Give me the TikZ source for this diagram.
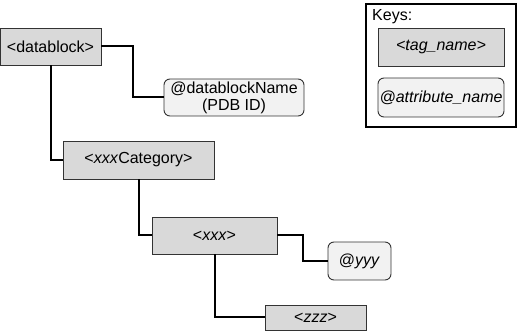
\documentclass[tikz,border=0pt]{standalone}
\usepackage{fontspec}
\setmainfont{Liberation Sans}
\begin{document}
\begin{tikzpicture}[x=1pt,y=-1pt,
  every node/.style={font=\fontsize{16}{17}\selectfont, inner sep=0pt},
  tagbox/.style={draw=black!80, line width=0.9pt, fill=black!15},
  attrbox/.style={draw=black!80, line width=0.9pt, fill=black!5, rounded corners=6pt},
  conn/.style={line width=2pt, black}]
\useasboundingbox (0,0) rectangle (520,331);
% nodes
\node[tagbox, minimum width=101pt, minimum height=37pt] (db) at (50.5,46.5) {<datablock>};
\node[attrbox, minimum width=140pt, minimum height=37pt, align=center] (dbname) at (234,97.5) {@datablockName\\(PDB ID)};
\node[tagbox, minimum width=151pt, minimum height=38pt] (cat) at (138.5,160) {<\textit{xxx}Category>};
\node[tagbox, minimum width=125pt, minimum height=37pt] (xxx) at (214.5,235.5) {<\textit{xxx}>};
\node[attrbox, minimum width=63pt, minimum height=38pt] (yyy) at (359.5,261) {@\textit{yyy}};
\node[tagbox, minimum width=101pt, minimum height=25pt] (zzz) at (315.5,317.5) {<\textit{zzz}>};
% keys
\node[draw=black, line width=2.8pt, minimum width=150pt, minimum height=123pt] (keys) at (441,65.5) {};
\node[anchor=north west] (keyslabel) at (372,9.5) {Keys:};
\node[tagbox, minimum width=126pt, minimum height=38pt] (tag) at (441,47) {\textit{<tag\_name>}};
\node[attrbox, minimum width=126pt, minimum height=39pt] (attr) at (441,97.5) {\textit{@attribute\_name}};
% connectors
\draw[conn] (db.east) -- ++(32,0) |- (dbname.west);
\draw[conn] (db.south) |- (cat.west);
\draw[conn] (cat.south) |- (xxx.west);
\draw[conn] (xxx.east) -- ++(26,0) |- (yyy.west);
\draw[conn] (xxx.south) |- (zzz.west);
\end{tikzpicture}
\end{document}
